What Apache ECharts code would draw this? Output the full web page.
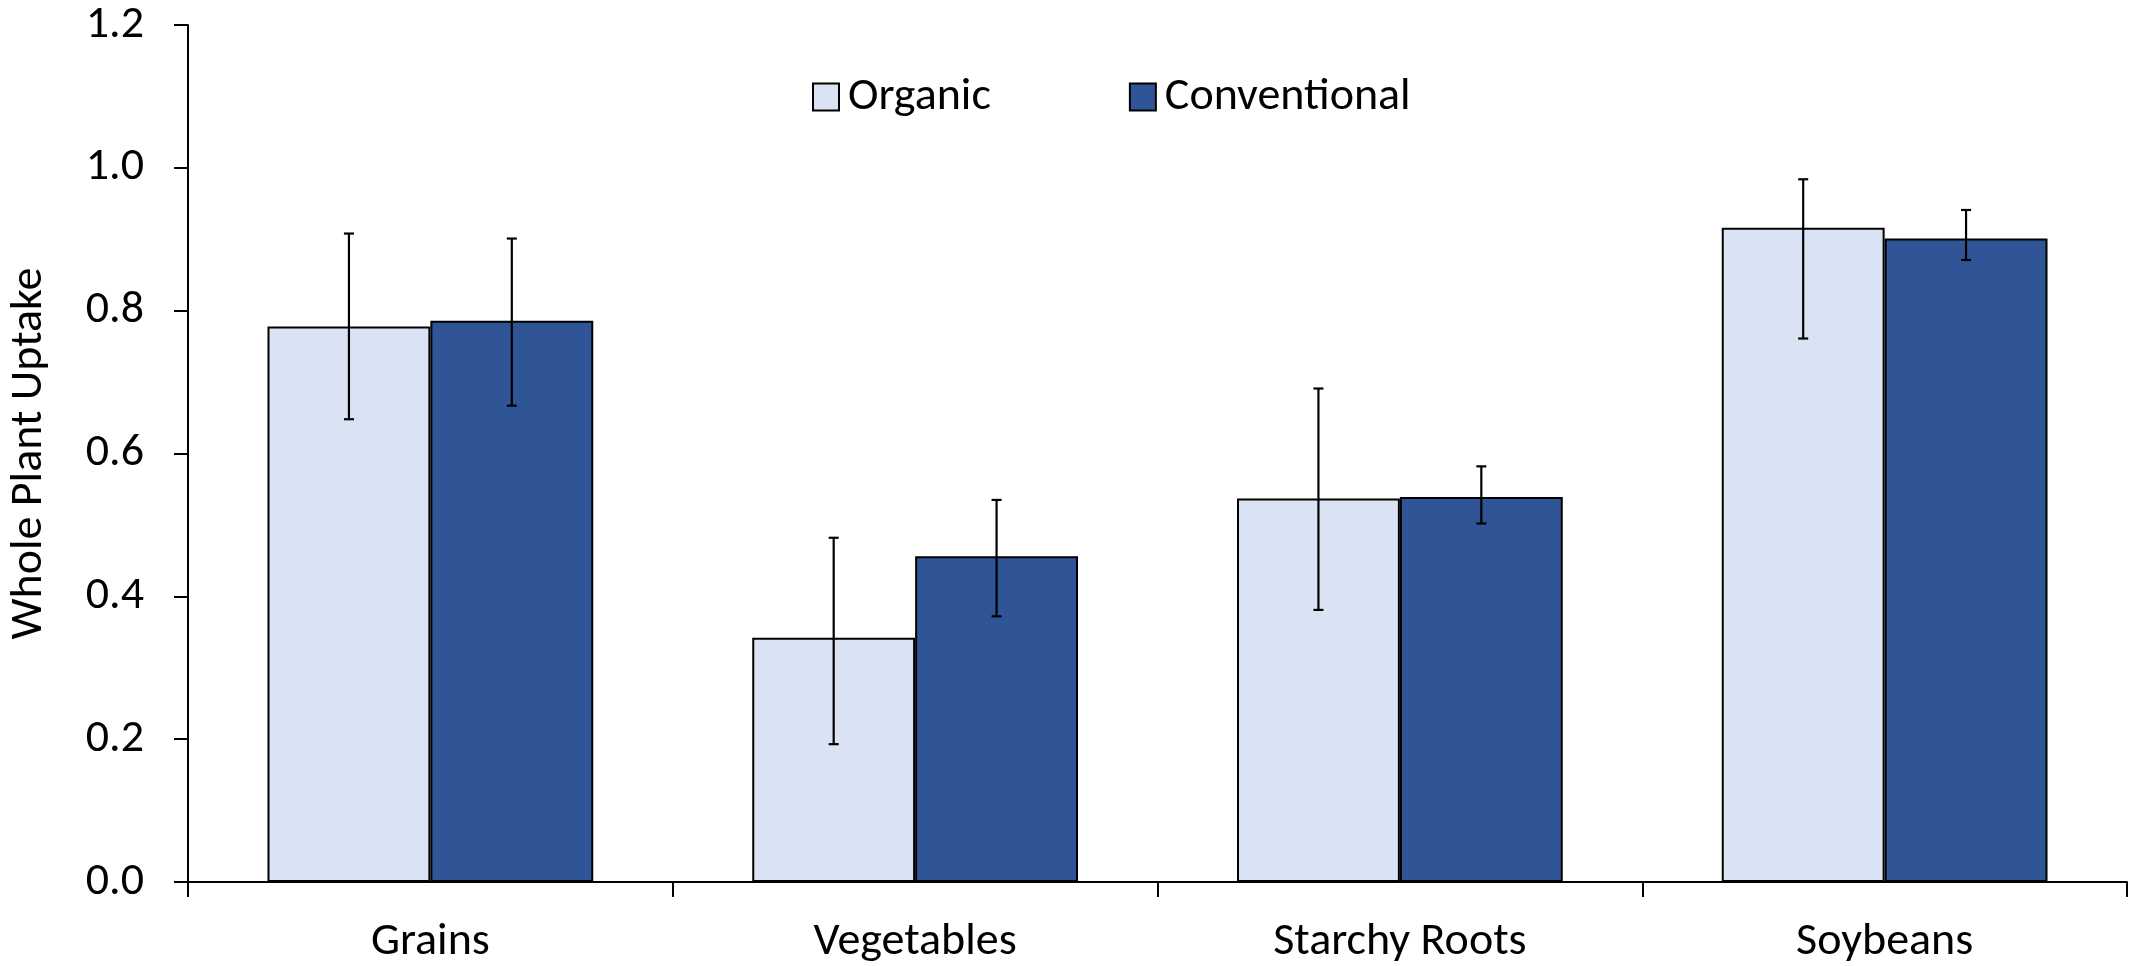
<!DOCTYPE html>
<html>
<head>
<meta charset="utf-8">
<script src="https://cdn.jsdelivr.net/npm/echarts@6/dist/echarts.min.js"></script>
<style>
  html, body { margin: 0; padding: 0; background: #fff; }
  #chart { width: 2143px; height: 966px; }
</style>
</head>
<body>
<div id="chart"></div>
<script>
const categories = ['Grains', 'Vegetables', 'Starchy Roots', 'Soybeans'];
const seriesNames = ['Organic', 'Conventional'];

// bar heights
const organic = [0.778, 0.342, 0.537, 0.916];
const conventional = [0.786, 0.456, 0.539, 0.901];

// error bar ends (low, high)
const organicLow = [0.648, 0.193, 0.381, 0.761];
const organicHigh = [0.908, 0.482, 0.691, 0.984];
const conventionalLow = [0.667, 0.372, 0.502, 0.871];
const conventionalHigh = [0.901, 0.535, 0.582, 0.941];

const yTicks = [0, 0.2, 0.4, 0.6, 0.8, 1.0, 1.2];

const font = 'Carlito, Calibri, Lato, sans-serif';
const fontSize = 46;
const barPct = 0.336;

const chart = echarts.init(document.getElementById('chart'));

function errorSeries(name, low, high, side) {
    return {
        type: 'custom',
        name: name + ' error',
        z: 10,
        silent: true,
        data: categories.map((c, i) => [i, low[i], high[i]]),
        renderItem: function (params, api) {
            const band = api.size([1, 0])[0];
            const dx = side * band * barPct / 2;
            const lo = api.coord([api.value(0), api.value(1)]);
            const hi = api.coord([api.value(0), api.value(2)]);
            const x = lo[0] + dx;
            const cap = 5;
            const style = { stroke: '#000', lineWidth: 2.2 };
            return {
                type: 'group',
                children: [
                    { type: 'line', shape: { x1: x, y1: lo[1], x2: x, y2: hi[1] }, style: style },
                    { type: 'line', shape: { x1: x - cap, y1: hi[1], x2: x + cap, y2: hi[1] }, style: style },
                    { type: 'line', shape: { x1: x - cap, y1: lo[1], x2: x + cap, y2: lo[1] }, style: style }
                ]
            };
        }
    };
}

chart.setOption({
    animation: false,
    textStyle: { fontFamily: font },
    grid: { left: 188, right: 16, top: 25, bottom: 84, outerBoundsMode: 'none', containLabel: false },
    legend: {
        data: seriesNames,
        left: 812,
        top: 74,
        padding: 0,
        icon: 'rect',
        itemWidth: 26,
        itemHeight: 27,
        itemGap: 138,
        textStyle: { fontFamily: font, fontSize: fontSize, color: '#000', padding: [0, 0, 0, 4] },
        itemStyle: { borderColor: '#000', borderWidth: 2 }
    },
    xAxis: {
        type: 'category',
        data: categories,
        axisLine: { lineStyle: { color: '#000', width: 2 } },
        axisTick: { show: true, length: 15, lineStyle: { color: '#000', width: 2 } },
        axisLabel: { color: '#000', fontSize: fontSize, fontFamily: font, margin: 37 }
    },
    yAxis: {
        type: 'value',
        min: 0,
        max: 1.2,
        interval: 0.2,
        name: 'Whole Plant Uptake',
        nameLocation: 'middle',
        nameGap: 136,
        nameTextStyle: { color: '#000', fontSize: fontSize, fontFamily: font },
        splitLine: { show: false },
        axisLine: { show: true, lineStyle: { color: '#000', width: 2 } },
        axisTick: { show: true, length: 14, lineStyle: { color: '#000', width: 2 } },
        axisLabel: {
            color: '#000', fontSize: fontSize, fontFamily: font, margin: 44,
            formatter: v => yTicks.includes(Math.round(v * 10) / 10) ? v.toFixed(1) : ''
        }
    },
    series: [
        {
            name: seriesNames[0], type: 'bar', data: organic,
            barWidth: (barPct * 100) + '%', barGap: '0%',
            itemStyle: { color: '#DAE3F3', borderColor: '#000', borderWidth: 2 }
        },
        {
            name: seriesNames[1], type: 'bar', data: conventional,
            barWidth: (barPct * 100) + '%', barGap: '0%',
            itemStyle: { color: '#2F5597', borderColor: '#000', borderWidth: 2 }
        },
        errorSeries(seriesNames[0], organicLow, organicHigh, -1),
        errorSeries(seriesNames[1], conventionalLow, conventionalHigh, 1)
    ]
});
</script>
</body>
</html>
